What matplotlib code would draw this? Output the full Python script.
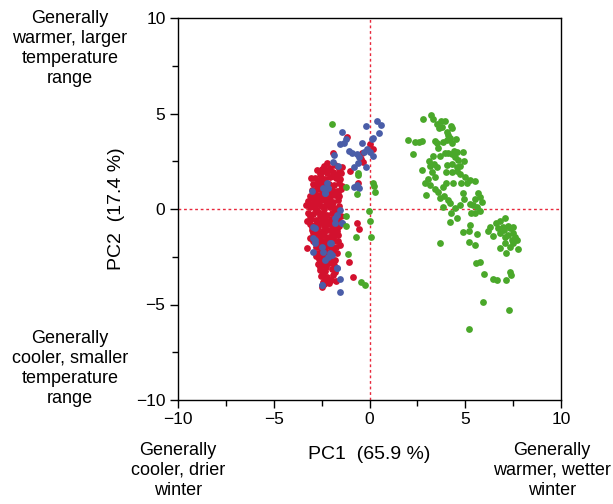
import matplotlib
matplotlib.use("Agg")
import matplotlib.pyplot as plt
from matplotlib.ticker import MultipleLocator

plt.rcParams['font.family'] = ['Liberation Sans', 'DejaVu Sans']

# green group
green_x = [2.81, 3.23, 3.33, 3.51, 3.72, 3.93, 3.63, 3.77, 4.24, 4.31, 4.03, 4.12, 4.20, 4.06, 4.29, 4.52,
           2.03, 2.38, 2.60, 2.72, 3.42, 3.51, 3.82, 2.29, 3.33, 3.68, 3.94, 4.12, 4.29, 4.55, 4.87, 4.47,
           4.64, 4.94, 2.74, 3.16, 3.37, 3.51, 3.25, 4.03, 4.29, 4.55, 4.73, 3.99, 4.29, 4.59, 3.42, 3.07,
           3.16, 3.42, 3.59, 3.99, 4.38, 4.78, 4.99, 5.25, 5.51, 5.11, 2.95, 3.68, 3.89, 4.12, 4.20, 3.82,
           4.47, 4.73, 4.87, 4.94, 5.25, 5.51, 5.68, 5.77, 5.86, 5.60, 5.77, 4.24, 5.28, 5.53, 4.55, 4.20,
           5.25, 4.87, 5.20, 5.60, 5.21, 5.53, 3.68, 6.29, 6.21, 6.47, 6.82, 7.08, 6.73, 6.99, 7.25, 7.34,
           7.51, 6.82, 7.08, 7.25, 7.48, 7.60, 7.69, 7.51, 7.77, 7.08, 7.11, 6.82, 7.34, 5.56, 5.77, 5.98,
           6.47, 6.64, 7.13, 7.34, 7.37, 5.91, 7.27, 5.21,
           3.10, 3.60, 4.40, 4.70, 3.85, 2.90, 5.40, 7.00, 7.45, 6.60,
           -1.94, -0.58, -0.62, 0.20, 0.24, 0.29, -1.23, -0.67, -0.03, 0.03, -1.24, -1.23, -0.70, 0.10,
           -1.10, -0.44, -0.23]
green_y = [4.70, 4.92, 4.71, 4.45, 4.62, 4.62, 4.26, 4.31, 4.35, 4.22, 4.05, 3.87, 3.70, 3.61, 3.47, 3.65,
           3.61, 3.53, 3.53, 3.58, 3.54, 3.47, 3.53, 2.88, 2.79, 2.78, 2.92, 2.95, 2.86, 3.00, 2.97, 2.74,
           2.57, 2.53, 2.04, 2.25, 2.36, 2.18, 1.96, 2.31, 2.36, 2.22, 2.25, 1.96, 1.92, 1.99, 1.69, 1.55,
           1.26, 1.03, 0.91, 1.38, 1.38, 1.34, 1.66, 1.52, 1.47, 1.34, 0.73, 0.56, 0.68, 0.47, 0.30, 0.12,
           0.04, 0.21, 0.86, 0.51, 0.26, 0.51, 0.86, 0.65, 0.38, 0.12, -0.10, -0.23, -0.19, -0.19, -0.49, -0.70,
           -0.84, -1.19, -1.13, -1.33, -1.71, -1.90, -1.80, -0.92, -1.13, -1.41, -0.61, -0.49, -0.98, -0.92, -0.89, -1.01,
           -0.96, -1.24, -1.45, -1.36, -1.27, -1.45, -1.62, -1.80, -2.11, -1.76, -2.32, -2.06, -1.97, -2.84, -2.76, -3.40,
           -3.68, -3.72, -3.72, -3.28, -3.45, -4.85, -5.29, -6.28,
           2.50, 3.20, 3.05, 1.85, 1.15, 1.35, 0.20, -1.10, -1.60, -0.75,
           4.43, 1.90, 1.78, 1.38, 1.20, 0.91, 1.17, 0.77, -0.10, -0.61, -0.37, -0.89, -1.48, -1.48,
           -2.37, -3.84, -3.98]

# red group
red_x = [-1.16, -1.89, 0.03, 0.17, -0.41, -0.36, -0.46, -0.58, -1.02, -3.07, -0.67, -0.53, -1.05, -0.88,
         -1.75, -3.25, -2.97,
         -2.35, -2.05, -1.80, -1.60, -1.45, -2.20,
         -2.60, -2.45, -2.20, -1.90, -1.70, -1.50, -2.75,
         -2.85, -2.55, -2.30, -2.05, -1.75, -1.55, -2.70,
         -2.95, -2.65, -2.35, -2.10, -1.85, -1.60, -1.45, -2.50,
         -3.00, -2.75, -2.50, -2.25, -1.95, -1.70, -1.50, -2.85,
         -3.10, -2.85, -2.60, -2.35, -2.05, -1.80, -1.60, -2.20, -2.95,
         -3.20, -2.90, -2.65, -2.40, -2.15, -1.90, -1.65, -2.75, -2.25,
         -3.10, -2.85, -2.55, -2.35, -2.05, -1.85, -1.60, -3.30,
         -3.20, -2.95, -2.70, -2.45, -2.20, -1.95, -1.70, -2.60,
         -3.05, -2.80, -2.50, -2.30, -2.00, -1.80, -1.65, -3.25,
         -3.10, -2.85, -2.60, -2.35, -2.10, -1.85, -1.60, -2.70,
         -3.00, -2.75, -2.45, -2.20, -1.95, -1.70, -2.55,
         -2.90, -2.60, -2.35, -2.10, -1.85, -1.65, -3.10,
         -2.95, -2.70, -2.45, -2.15, -1.90, -1.65,
         -2.80, -2.55, -2.25, -2.00, -1.75, -2.40,
         -2.70, -2.45, -2.20, -1.95, -1.70,
         -2.65, -2.35, -2.05, -1.80, -2.50,
         -2.70, -2.40, -2.10, -1.85,
         -2.60, -2.30, -1.95, -2.45,
         -2.55, -2.20, -1.90,
         -2.45, -2.10,
         -2.50,
         -2.48, -2.18, -1.92, -1.68, -2.72, -2.40, -2.02, -1.62, -2.98, -2.58, -2.28, -1.98, -1.72,
         -3.12, -2.78, -2.48, -2.12, -1.78, -3.02, -2.68, -2.32, -1.98, -1.72, -2.88, -2.52, -2.22,
         -1.88, -2.78, -2.42, -2.08, -2.58, -2.28, -2.32, -2.02, -2.38, -1.78, -1.52, -1.50]
red_y = [3.79, 2.95, 3.40, 3.12, 2.91, 2.48, 2.60, 1.38, 2.01, 1.61, -0.71, -1.06, -2.79, -3.58,
         -3.77, -2.06, -1.27,
         2.25, 2.15, 2.30, 2.10, 2.20, 2.40,
         1.85, 2.00, 1.90, 1.95, 1.85, 1.90, 2.05,
         1.60, 1.65, 1.55, 1.70, 1.60, 1.55, 1.45,
         1.30, 1.25, 1.35, 1.30, 1.25, 1.35, 1.20, 1.45,
         1.00, 1.05, 0.95, 1.10, 1.00, 0.95, 1.05, 0.85,
         0.70, 0.65, 0.75, 0.70, 0.65, 0.75, 0.70, 0.85, 0.55,
         0.40, 0.45, 0.35, 0.45, 0.40, 0.35, 0.45, 0.25, 0.20,
         0.10, 0.05, 0.15, 0.00, 0.10, 0.05, 0.15, 0.20,
         -0.20, -0.25, -0.15, -0.20, -0.30, -0.20, -0.25, -0.35,
         -0.50, -0.55, -0.45, -0.55, -0.50, -0.45, -0.60, -0.65,
         -0.80, -0.85, -0.75, -0.85, -0.80, -0.85, -0.90, -0.95,
         -1.10, -1.05, -1.15, -1.10, -1.05, -1.15, -1.25,
         -1.40, -1.45, -1.35, -1.45, -1.40, -1.35, -1.50,
         -1.70, -1.75, -1.65, -1.75, -1.70, -1.65,
         -2.00, -2.05, -1.95, -2.05, -2.00, -2.15,
         -2.30, -2.35, -2.25, -2.35, -2.30,
         -2.60, -2.65, -2.55, -2.65, -2.75,
         -2.90, -2.95, -2.85, -2.95,
         -3.20, -3.25, -3.15, -3.35,
         -3.50, -3.55, -3.45,
         -3.80, -3.85,
         -4.10,
         2.08, 2.02, 1.72, 1.72, 1.18, 1.18, 0.82, 0.88, 0.28, 0.55, 0.55, 0.25, -0.05,
         -0.38, -0.05, -0.65, -0.65, -0.62, -0.95, -1.28, -1.00, -1.28, -1.00, -1.58, -1.88, -1.58,
         -2.18, -2.48, -2.48, -2.72, -3.05, -3.05, -3.68, -3.70, -3.95, -3.30, -1.90, -0.35]

# blue group (only the dots that show through)
blue_x = [0.41, 0.58, -0.18, 0.50, 0.12, 0.20, -1.45, -1.23, -1.54, -1.33, -0.41, -0.15, 0.03, -0.29,
          -1.05, -0.89, -0.67, -0.53, 0.17, -1.83, -0.58, -0.79, -0.18, -0.67, -0.53, -0.81, -1.63, -1.92,
          -3.02, -2.24, -2.41, -2.32, -1.54, -1.71, -1.45, -2.93, -2.84, -2.93, -2.41, -2.06, -2.03, -2.32,
          -1.68, -1.54, -2.50, -1.54, -1.80, -1.97,
          -2.85, -2.93, -2.85, -2.50, -2.15, -2.06, -1.80, -1.45, -1.71, -2.50, -2.15, -2.32]
blue_y = [4.63, 4.40, 4.36, 3.96, 3.65, 3.70, 4.01, 3.65, 3.40, 3.44, 3.47, 3.12, 3.00, 3.00,
          3.05, 2.92, 2.88, 2.74, 2.78, 2.83, 2.39, 2.18, 2.22, 1.26, 1.08, 1.13, 2.25, 2.48,
          0.96, 1.34, 1.08, 0.82, -0.05, -0.31, -0.71, -0.92, -1.62, -2.23, -2.23, -2.32, -1.76, -2.67,
          -3.11, -3.68, -3.98, -4.33, -0.49, -2.41,
          -1.01, -1.54, -1.80, -1.97, -2.50, -1.80, -0.75, -0.75, -3.11, -3.98, 1.08, 0.82]

red = '#d3112e'
blue = '#4a5da8'
green = '#4aa82a'
line_red = '#e8283c'

fig = plt.figure(figsize=(6.13, 5.04), dpi=100)
ax = fig.add_axes([178 / 613, 1 - 400 / 504, 383 / 613, 382 / 504])

ax.axvline(0, color=line_red, lw=1, ls=(0, (2, 2)), zorder=1)
ax.axhline(0, color=line_red, lw=1, ls=(0, (2, 2)), zorder=1)

ax.scatter(red_x, red_y, s=24, color=red, linewidths=0, zorder=2)
ax.scatter(blue_x, blue_y, s=24, color=blue, linewidths=0, zorder=3)
ax.scatter(green_x, green_y, s=24, color=green, linewidths=0, zorder=4)

ax.set_xlim(-10, 10)
ax.set_ylim(-10, 10)
ax.xaxis.set_major_locator(MultipleLocator(5))
ax.yaxis.set_major_locator(MultipleLocator(5))
ax.xaxis.set_minor_locator(MultipleLocator(2.5))
ax.yaxis.set_minor_locator(MultipleLocator(2.5))
ax.tick_params(which='major', length=6, width=1, labelsize=12.5, pad=3)
ax.tick_params(which='minor', length=4, width=1)
for s in ax.spines.values():
    s.set_linewidth(1)

ax.set_xlabel('PC1  (65.9 %)', fontsize=14, labelpad=13)
ax.set_ylabel('PC2  (17.4 %)', fontsize=14, labelpad=8)

kw = dict(ha='center', va='top', fontsize=13, linespacing=1.22)
fig.text(70 / 613, 1 - 10 / 504, 'Generally\nwarmer, larger\ntemperature\nrange', **kw)
fig.text(70 / 613, 1 - 330 / 504, 'Generally\ncooler, smaller\ntemperature\nrange', **kw)
fig.text(178 / 613, 1 - 442 / 504, 'Generally\ncooler, drier\nwinter', **kw)
fig.text(552 / 613, 1 - 442 / 504, 'Generally\nwarmer, wetter\nwinter', **kw)

fig.savefig('out.png', dpi=100)
